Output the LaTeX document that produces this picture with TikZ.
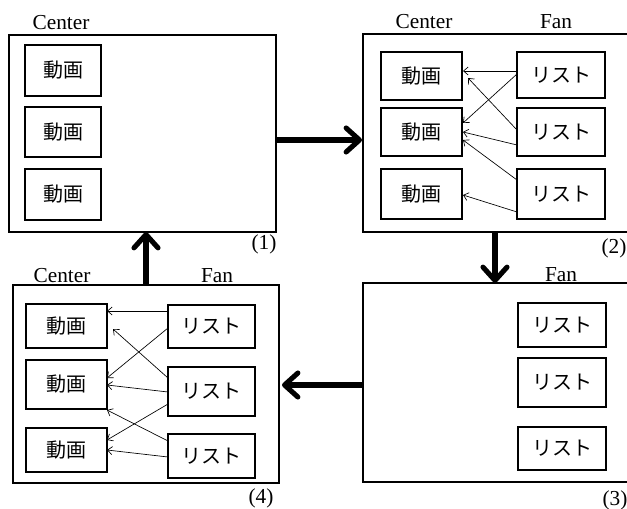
\documentclass[tikz,border=0pt]{standalone}
\usepackage{fontspec}
\setmainfont{Liberation Serif}
\newfontfamily\cjk{Noto Sans CJK JP}
\usetikzlibrary{arrows.meta,calc}
\begin{document}
\begin{tikzpicture}[x=0.75pt,y=-0.75pt,
  panel/.style={draw,line width=1.3pt,inner sep=0pt,outer sep=0pt},
  dbox/.style={draw,line width=1.3pt,inner sep=0pt,outer sep=0pt,minimum width=81*0.75pt,font=\cjk\fontsize{15}{17}\selectfont},
  rbox/.style={draw,line width=1.3pt,inner sep=0pt,outer sep=0pt,minimum width=88*0.75pt,font=\cjk\fontsize{15}{17}\selectfont},
  lab/.style={inner sep=0pt,font=\fontsize{16}{18}\selectfont},
  thin/.style={line width=0.5pt,-{Straight Barb[length=3.5pt,width=6pt]}},
  big/.style={line width=3.8pt,-{Straight Barb[round,length=10pt,width=18pt]}}]
\useasboundingbox (0,0) rectangle (627,509);
% panels
\node[panel,minimum width=267*0.75pt,minimum height=197*0.75pt] (p1) at (142.5,133.5) {};
\node[panel,minimum width=287*0.75pt,minimum height=198*0.75pt] (p2) at (506.5,133) {};
\node[panel,minimum width=287*0.75pt,minimum height=199*0.75pt] (p3) at (506.5,382.5) {};
\node[panel,minimum width=266*0.75pt,minimum height=198*0.75pt] (p4) at (146,384) {};
% labels
\node[lab] (c1) at (61,23) {Center};
\node[lab] (c2) at (424,22) {Center};
\node[lab] (f2) at (556,22) {Fan};
\node[lab] (f3) at (561,275) {Fan};
\node[lab] (c4) at (62,276) {Center};
\node[lab] (f4) at (217,276) {Fan};
\node[lab] (n1) at (264,244) {(1)};
\node[lab] (n2) at (614,248) {(2)};
\node[lab] (n3) at (615,500) {(3)};
\node[lab] (n4) at (261,498) {(4)};
% panel 1
\node[dbox,minimum width=76*0.75pt,minimum height=51*0.75pt] (d11) at (63,70.5) {動画};
\node[dbox,minimum width=76*0.75pt,minimum height=50*0.75pt] (d12) at (63,132) {動画};
\node[dbox,minimum width=76*0.75pt,minimum height=51*0.75pt] (d13) at (63,194.5) {動画};
% panel 2
\node[dbox,minimum height=48*0.75pt] (d21) at (421.5,76) {動画};
\node[dbox,minimum height=48*0.75pt] (d22) at (421.5,132) {動画};
\node[dbox,minimum height=50*0.75pt] (d23) at (421.5,194) {動画};
\node[rbox,minimum height=46*0.75pt] (r21) at (561,75) {リスト};
\node[rbox,minimum height=48*0.75pt] (r22) at (561,132) {リスト};
\node[rbox,minimum height=50*0.75pt] (r23) at (561,194) {リスト};
% panel 3
\node[rbox,minimum height=44*0.75pt] (r31) at (562,325) {リスト};
\node[rbox,minimum height=49*0.75pt] (r32) at (562,382.5) {リスト};
\node[rbox,minimum height=43*0.75pt] (r33) at (562,448.5) {リスト};
% panel 4
\node[dbox,minimum height=44*0.75pt] (d41) at (66.5,326) {動画};
\node[dbox,minimum height=49*0.75pt] (d42) at (66.5,384.5) {動画};
\node[dbox,minimum height=44*0.75pt] (d43) at (66.5,450) {動画};
\node[rbox,minimum width=87*0.75pt,minimum height=43*0.75pt] (r41) at (211.5,326.5) {リスト};
\node[rbox,minimum width=87*0.75pt,minimum height=49*0.75pt] (r42) at (211.5,391.5) {リスト};
\node[rbox,minimum width=87*0.75pt,minimum height=44*0.75pt] (r43) at (211.5,456) {リスト};
% thin arrows panel 2
\draw[thin] ($(r21.west)+(0,-4)$) -- ($(d21.east)+(1,-5)$);
\draw[thin] ($(r21.west)+(0,-1)$) -- ($(d22.east)+(1,-9)$);
\draw[thin] ($(r22.west)+(0,-2)$) -- ($(d21.east)+(6,2)$);
\draw[thin] ($(r22.west)+(0,13)$) -- ($(d22.east)+(1,0)$);
\draw[thin] ($(r23.west)+(0,-14)$) -- ($(d22.east)+(1,8)$);
\draw[thin] ($(r23.west)+(0,18)$) -- ($(d23.east)+(1,1)$);
% thin arrows panel 4
\draw[thin] ($(r41.west)+(0,-15.5)$) -- ($(d41.east)+(0,-15)$);
\draw[thin] ($(r41.west)+(0,1.5)$) -- ($(d42.east)+(0,-6.5)$);
\draw[thin] ($(r42.west)+(0,-13.5)$) -- ($(d41.east)+(6,3)$);
\draw[thin] ($(r42.west)+(0,0.5)$) -- ($(d42.east)+(0,0.5)$);
\draw[thin] ($(r42.west)+(0,12.5)$) -- ($(d43.east)+(0,-10)$);
\draw[thin] ($(r43.west)+(0,-15)$) -- ($(d42.east)+(0,25.5)$);
\draw[thin] ($(r43.west)+(0,1)$) -- ($(d43.east)+(0,0)$);
% big arrows
\draw[big] ($(p1.east)+(0,6.5)$) -- ($(p2.west)+(-1,7)$);
\draw[big] ($(p2.south)+(-11.5,0)$) -- ($(p3.north)+(-11.5,0)$);
\draw[big] ($(p3.west)+(0,2.5)$) -- ($(p4.east)+(3,1)$);
\draw[big] (p4.north) -- (p4.north |- p1.south);
\end{tikzpicture}
\end{document}
